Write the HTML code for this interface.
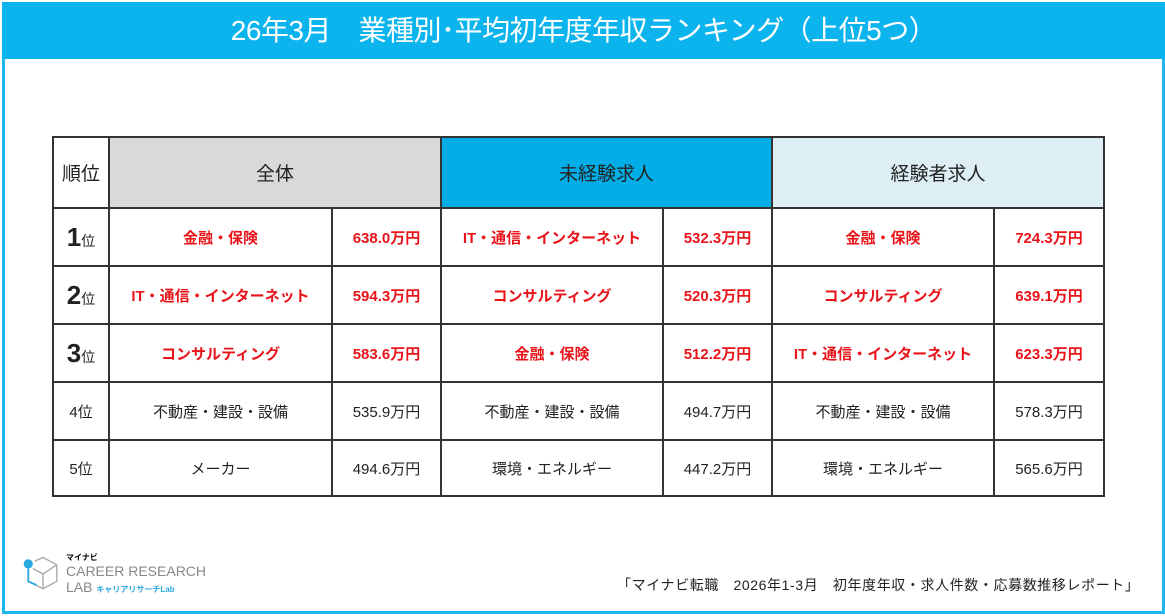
<!DOCTYPE html>
<html><head><meta charset="utf-8"><style>
body{margin:0;width:1165px;height:616px;background:#fff;font-family:"Liberation Sans","Noto Sans CJK JP",sans-serif;position:relative;overflow:hidden}
.frame{position:absolute;left:2px;top:2px;width:1157px;height:606px;border:3px solid #1fb6ee}
.title{position:absolute;left:2px;top:2px;width:1163px;height:57px;background:#0cb4ee;color:#fff;font-size:28px;text-align:center;line-height:57px;letter-spacing:-0.5px}
table{position:absolute;left:52px;top:136px;border-collapse:collapse;table-layout:fixed}
td{border:2px solid #333;text-align:center;font-size:15px;padding:0;color:#222}
.r{color:#e8141a;font-weight:bold}
.h td{font-size:19px;height:69px}
.big{font-size:26px;font-weight:bold}
.sm{font-size:14px}
.logo{position:absolute;left:20px;top:552px}
.foot{position:absolute;left:617px;top:575px;font-size:14px;color:#222;letter-spacing:0.6px;white-space:nowrap}
</style></head><body>
<div class="frame"></div>
<div class="title">26年3月　業種別･平均初年度年収ランキング（上位5つ）</div>
<table>
<colgroup><col style="width:56px"><col style="width:223px"><col style="width:109px"><col style="width:222px"><col style="width:109px"><col style="width:222px"><col style="width:110px"></colgroup>
<tr class="h"><td>順位</td><td colspan="2" style="background:#d9d9d9">全体</td><td colspan="2" style="background:#00ade6">未経験求人</td><td colspan="2" style="background:#ddeef4">経験者求人</td></tr>
<tr style="height:58px"><td><span class="big">1</span><span class="sm">位</span></td><td class="r">金融・保険</td><td class="r">638.0万円</td><td class="r">IT・通信・インターネット</td><td class="r">532.3万円</td><td class="r">金融・保険</td><td class="r">724.3万円</td></tr>
<tr style="height:58px"><td><span class="big">2</span><span class="sm">位</span></td><td class="r">IT・通信・インターネット</td><td class="r">594.3万円</td><td class="r">コンサルティング</td><td class="r">520.3万円</td><td class="r">コンサルティング</td><td class="r">639.1万円</td></tr>
<tr style="height:58px"><td><span class="big">3</span><span class="sm">位</span></td><td class="r">コンサルティング</td><td class="r">583.6万円</td><td class="r">金融・保険</td><td class="r">512.2万円</td><td class="r">IT・通信・インターネット</td><td class="r">623.3万円</td></tr>
<tr style="height:58px"><td>4位</td><td>不動産・建設・設備</td><td>535.9万円</td><td>不動産・建設・設備</td><td>494.7万円</td><td>不動産・建設・設備</td><td>578.3万円</td></tr>
<tr style="height:56px"><td>5位</td><td>メーカー</td><td>494.6万円</td><td>環境・エネルギー</td><td>447.2万円</td><td>環境・エネルギー</td><td>565.6万円</td></tr>
</table>
<div class="logo">
<svg width="46" height="44" viewBox="0 0 50 44"><circle cx="9" cy="11" r="5" fill="#2aa8e0"/><path d="M9 16 V30 L25 38 L40 30 V12 L25 4 L16 8 M25 38 V22 L40 12 M25 22 L14 16" fill="none" stroke="#aaa" stroke-width="1.5"/><path d="M9 16 V30 L18 34" fill="none" stroke="#2aa8e0" stroke-width="2"/></svg>
<div style="position:absolute;left:46px;top:0;font-size:8px;font-weight:bold;white-space:nowrap">マイナビ</div>
<div style="position:absolute;left:46px;top:11px;font-size:14px;color:#888;white-space:nowrap">CAREER RESEARCH</div>
<div style="position:absolute;left:46px;top:27px;font-size:14px;color:#888;white-space:nowrap">LAB <span style="font-size:8px;color:#2aa8e0;font-weight:bold">キャリアリサーチLab</span></div>
</div>
<div class="foot">「マイナビ転職　2026年1-3月　初年度年収・求人件数・応募数推移レポート」</div>
</body></html>
